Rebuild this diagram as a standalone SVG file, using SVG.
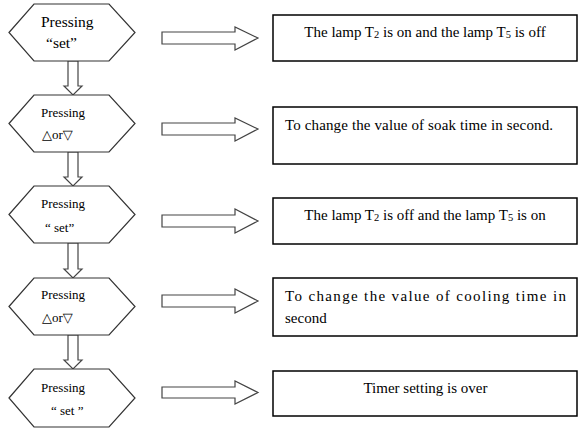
<svg xmlns="http://www.w3.org/2000/svg" width="587" height="435" viewBox="0 0 587 435">
<style>
.hex{fill:#fff;stroke:#333;stroke-width:1.2}
.box{fill:#fff;stroke:#000;stroke-width:1.5}
.arr{fill:#fff;stroke:#444;stroke-width:1.2}
.t13{font-size:13px}
.t15{font-size:15.5px}
.bt{font-size:15px}
.sub{font-size:10.5px}
</style>
<rect width="587" height="435" fill="#fff"/>
<g id="connectors">
<polygon class="arr" points="68,61 78,61 78,86 82,86 73,95 64,86 68,86"/>
<polygon class="arr" points="68,152 78,152 78,177 82,177 73,186 64,177 68,177"/>
<polygon class="arr" points="68,243 78,243 78,269 82,269 73,278 64,269 68,269"/>
<polygon class="arr" points="68,335 78,335 78,360 82,360 73,369 64,360 68,360"/>
<polygon class="arr" points="162,32 235,32 235,27 258,38 235,50 235,44 162,44"/>
<polygon class="arr" points="162,123 235,123 235,118 258,129 235,141 235,135 162,135"/>
<polygon class="arr" points="162,215 235,215 235,209 258,221 235,233 235,227 162,227"/>
<polygon class="arr" points="162,295 235,295 235,289 258,301 235,313 235,307 162,307"/>
<polygon class="arr" points="162,387 235,387 235,381 258,392.5 235,404 235,398 162,398"/>
</g>
<g font-family="'Liberation Serif', 'DejaVu Serif', serif" fill="#000">
<g id="hex1">
<polygon class="hex" points="9,32.5 34,4 109,4 135,32.5 109,61 34,61"/>
<text class="t15" x="41" y="27">Pressing</text>
<text class="t15" x="46" y="48">“set”</text>
</g>
<g id="hex2">
<polygon class="hex" points="9,123.5 34,95 109,95 135,123.5 109,152 34,152"/>
<text class="t13" x="41" y="117">Pressing</text>
<text class="t13" x="42" y="139">△or▽</text>
</g>
<g id="hex3">
<polygon class="hex" points="9,214.5 34,186 109,186 135,214.5 109,243 34,243"/>
<text class="t13" x="41" y="208">Pressing</text>
<text class="t13" x="45" y="232">“ set”</text>
</g>
<g id="hex4">
<polygon class="hex" points="9,306.5 34,278 109,278 135,306.5 109,335 34,335"/>
<text class="t13" x="41" y="299">Pressing</text>
<text class="t13" x="42" y="322">△or▽</text>
</g>
<g id="hex5">
<polygon class="hex" points="9,398 34,369 109,369 135,398 109,427 34,427"/>
<text class="t13" x="41" y="392">Pressing</text>
<text class="t13" x="51" y="415">“ set ”</text>
</g>
<g id="box1">
<rect class="box" x="273" y="15" width="304" height="46"/>
<text class="bt" x="425" y="37" text-anchor="middle">The lamp T<tspan class="sub" dy="1">2</tspan><tspan dy="-1"> is on and the lamp T</tspan><tspan class="sub" dy="1">5</tspan><tspan dy="-1"> is off</tspan></text>
</g>
<g id="box2">
<rect class="box" x="273" y="107" width="304" height="57"/>
<text class="bt" x="285" y="130" textLength="268" lengthAdjust="spacing">To change the value of soak time in second.</text>
</g>
<g id="box3">
<rect class="box" x="273" y="198" width="304" height="46"/>
<text class="bt" x="425" y="220" text-anchor="middle">The lamp T<tspan class="sub" dy="1">2</tspan><tspan dy="-1"> is off and the lamp T</tspan><tspan class="sub" dy="1">5</tspan><tspan dy="-1"> is  on</tspan></text>
</g>
<g id="box4">
<rect class="box" x="273" y="278" width="304" height="58"/>
<text class="bt" x="285" y="301" textLength="281" lengthAdjust="spacing">To change the value of cooling time in</text>
<text class="bt" x="285" y="323">second</text>
</g>
<g id="box5">
<rect class="box" x="273" y="371" width="304" height="45"/>
<text class="bt" x="425.5" y="393" text-anchor="middle">Timer setting is over</text>
</g>
</g>
</svg>
